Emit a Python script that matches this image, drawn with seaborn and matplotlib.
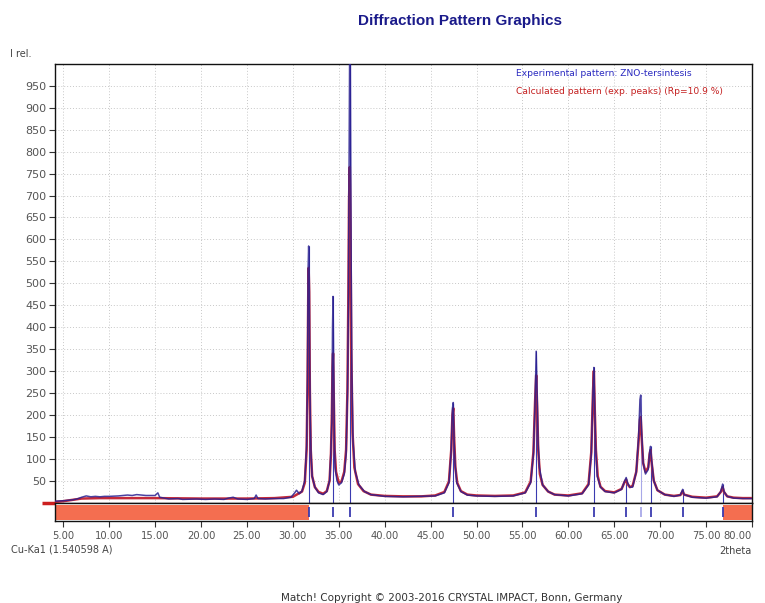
import numpy as np
import pandas as pd
import matplotlib
matplotlib.use("Agg")
import matplotlib.pyplot as plt
import seaborn as sns

# ---------------- data ----------------
exp_x = [4.1, 5.0, 6.0, 6.5, 7.0, 7.5, 8.0, 8.5, 9.0, 9.5, 10.0, 11.0, 12.0, 12.5, 13.0, 13.5, 14.0, 15.0,
         15.3, 15.5, 16.5, 17.5, 18.0, 19.5, 20.5, 21.5, 22.5, 23.0, 23.5, 24.0, 25.0, 25.8, 26.0, 26.2,
         27.0, 28.0, 29.0, 29.8, 30.2, 30.4, 30.7, 31.0, 31.3, 31.5, 31.6, 31.66, 31.72, 31.78, 31.84,
         31.9, 31.98, 32.1, 32.4, 32.8, 33.3, 33.7, 34.0, 34.15, 34.25, 34.32, 34.38, 34.45, 34.52, 34.6,
         34.8, 35.0, 35.3, 35.6, 35.8, 35.95, 36.05, 36.12, 36.18, 36.26, 36.34, 36.42, 36.55, 36.8, 37.2,
         37.8, 38.5, 40.0, 42.0, 44.0, 45.5, 46.5, 47.0, 47.25, 47.38, 47.47, 47.56, 47.66, 47.85, 48.3,
         49.0, 50.0, 52.0, 54.0, 55.3, 55.9, 56.2, 56.38, 56.5, 56.6, 56.7, 56.85, 57.2, 57.8, 58.5,
         60.0, 61.5, 62.2, 62.5, 62.68, 62.78, 62.87, 62.97, 63.15, 63.5, 64.0, 65.0, 65.8, 66.15, 66.3,
         66.45, 66.7, 67.0, 67.4, 67.65, 67.8, 67.88, 67.96, 68.15, 68.4, 68.7, 68.85, 68.95, 69.05, 69.3,
         69.7, 70.5, 71.5, 72.2, 72.45, 72.6, 73.5, 75.0, 76.2, 76.6, 76.8, 76.95, 77.3, 78.0, 79.0, 80.0]
exp_y = [3, 4, 6, 8, 12, 15, 13, 14, 13, 14, 14, 15, 17, 16, 18, 17, 16, 16,
         22, 12, 8, 9, 7, 8, 7, 8, 7, 10, 12, 8, 7, 9, 17, 9,
         8, 9, 9, 12, 22, 28, 20, 26, 50, 130, 290, 530, 585, 535, 310,
         190, 110, 60, 35, 22, 18, 25, 50, 120, 185, 400, 470, 300, 150, 80,
         50, 40, 45, 65, 110, 250, 450, 760, 1010, 1010, 600, 300, 140, 70, 40,
         25, 18, 14, 13, 14, 15, 22, 45, 120, 215, 228, 140, 90, 45, 25,
         17, 15, 14, 15, 22, 45, 110, 230, 345, 250, 140, 80, 40, 25, 18,
         15, 20, 40, 110, 250, 308, 220, 130, 60, 35, 25, 22, 30, 50, 57,
         45, 35, 35, 70, 150, 235, 245, 170, 90, 65, 75, 115, 128, 100, 50,
         28, 18, 14, 17, 30, 18, 12, 10, 13, 25, 42, 25, 14, 10, 9, 9]

calc_x = [4.1, 5.0, 6.0, 7.0, 9.0, 12.0, 15.0, 20.0, 25.0, 28.0, 30.0, 31.0, 31.3, 31.5, 31.6, 31.68, 31.72,
          31.78, 31.85, 31.95, 32.1, 32.4, 32.8, 33.3, 33.7, 34.0, 34.15, 34.25, 34.32, 34.38, 34.45, 34.55,
          34.7, 35.0, 35.3, 35.6, 35.8, 35.95, 36.05, 36.12, 36.2, 36.28, 36.36, 36.5, 36.7, 37.1, 37.7,
          38.5, 40.0, 42.0, 44.0, 45.5, 46.5, 47.0, 47.25, 47.38, 47.47, 47.56, 47.7, 47.9, 48.3, 49.0,
          50.0, 52.0, 54.0, 55.3, 55.9, 56.2, 56.38, 56.5, 56.6, 56.72, 56.9, 57.2, 57.8, 58.5, 60.0, 61.5,
          62.2, 62.5, 62.68, 62.78, 62.88, 63.0, 63.2, 63.5, 64.0, 65.0, 65.8, 66.15, 66.3, 66.45, 66.7,
          67.0, 67.4, 67.65, 67.8, 67.88, 67.98, 68.15, 68.4, 68.7, 68.85, 68.95, 69.05, 69.3, 69.7, 70.5,
          71.5, 72.2, 72.45, 72.6, 73.5, 75.0, 76.2, 76.6, 76.8, 76.95, 77.3, 78.0, 79.0, 80.0]
calc_y = [1, 3, 6, 9, 10, 10, 10, 9, 9, 10, 13, 25, 45, 120, 270, 480, 535,
          480, 260, 120, 60, 35, 24, 20, 26, 50, 110, 200, 310, 340, 250, 120,
          70, 45, 48, 70, 120, 260, 480, 690, 765, 620, 350, 160, 80, 42, 26,
          18, 15, 14, 14, 16, 24, 48, 120, 200, 215, 150, 80, 45, 26, 18,
          16, 15, 16, 23, 48, 115, 230, 290, 220, 120, 65, 40, 25, 18, 16, 21,
          42, 115, 250, 300, 210, 120, 60, 36, 26, 23, 31, 48, 52, 42, 35,
          38, 70, 140, 190, 195, 150, 90, 70, 80, 110, 120, 95, 50, 28, 18,
          15, 17, 26, 18, 13, 11, 14, 24, 35, 24, 14, 11, 10, 10]

peak_pos = [31.72, 34.38, 36.20, 47.47, 56.50, 62.78, 66.30, 67.88, 68.95, 72.45, 76.80]
peak_height = [585, 470, 1000, 228, 345, 308, 57, 245, 128, 30, 42]
peak_color = ["#3a3ab0"] * 7 + ["#a8a8e8"] + ["#3a3ab0"] * 3
excluded_start = [4.1, 76.80]
excluded_end = [31.72, 80.0]

x_ticks = [5, 10, 15, 20, 25, 30, 35, 40, 45, 50, 55, 60, 65, 70, 75, 80]
x_tick_labels = ["%.2f" % v for v in x_ticks]
y_ticks = list(range(50, 1000, 50))

title = "Diffraction Pattern Graphics"
legend_exp = "Experimental pattern: ZNO-tersintesis"
legend_calc = "Calculated pattern (exp. peaks) (Rp=10.9 %)"

# ---------------- figure ----------------
sns.set_style("white")
plt.rcParams['font.family'] = ['DejaVu Sans']

W, H = 765, 603
fig = plt.figure(figsize=(W / 100, H / 100), dpi=100)

def fx(px):
    return px / W

def fy(py):
    return 1 - py / H

L, R = 55, 752
top_main, bot_main, bot_strip = 64, 502.5, 521
ax = fig.add_axes([fx(L), fy(bot_main), fx(R - L), fy(top_main) - fy(bot_main)])
axs = fig.add_axes([fx(L), fy(bot_strip), fx(R - L), fy(bot_main) - fy(bot_strip)], sharex=ax)

exp_df = pd.DataFrame({"2theta": exp_x, "I": exp_y})
calc_df = pd.DataFrame({"2theta": calc_x, "I": calc_y})

tick_col = "#555555"

# grid
ax.set_xticks(x_ticks)
ax.set_yticks(y_ticks)
ax.grid(True, color="#c8c8c8", linestyle=(0, (1, 2)), linewidth=0.7)

# peak lines in main plot
ax.vlines(peak_pos, 0, peak_height, colors=peak_color, linewidth=0.8, zorder=2)

sns.lineplot(data=calc_df, x="2theta", y="I", ax=ax, color="#c42a3a", linewidth=1.8,
             estimator=None, sort=False, zorder=3)
sns.lineplot(data=exp_df, x="2theta", y="I", ax=ax, color="#2a2090", linewidth=1.1, alpha=0.85,
             estimator=None, sort=False, zorder=4)

ax.set_xlim(4.1, 80.0)
ax.set_ylim(0, 1000)
ax.set_xlabel("")
ax.set_ylabel("")
ax.tick_params(axis="x", bottom=False, labelbottom=False)
ax.tick_params(axis="y", left=True, length=4, width=0.8, color="#333333", labelsize=8,
               labelcolor=tick_col, pad=2)
for s in ax.spines.values():
    s.set_color("#111111")
    s.set_linewidth(1.0)

# zero marker (red) outside left axis
ax.plot([-0.018, 0.0], [0, 0], transform=ax.get_yaxis_transform(), color="#cc1f1f",
        linewidth=2.5, clip_on=False, solid_capstyle="butt", zorder=5)

# strip with excluded regions and peak markers
for a, b in zip(excluded_start, excluded_end):
    axs.axvspan(a, b, ymin=0.05, ymax=0.86, color="#f46e50", linewidth=0)
axs.vlines(peak_pos, 0.22, 0.77, colors=peak_color, linewidth=1.3)
axs.set_ylim(0, 1)
axs.set_yticks([])
axs.set_xticks(x_ticks)
axs.set_xticklabels(x_tick_labels)
axs.tick_params(axis="x", bottom=True, length=4, width=0.8, color="#333333", labelsize=7.2,
                labelcolor=tick_col, pad=3)
labels = axs.get_xticklabels()
labels[-1].set_horizontalalignment("right")
for s in axs.spines.values():
    s.set_color("#111111")
    s.set_linewidth(1.0)

# texts
fig.text(fx(460), fy(21), title, ha="center", va="center", fontsize=11, fontweight="bold",
         color="#1a1a8a", family=["Liberation Sans"])
fig.text(fx(10), fy(54), "I rel.", ha="left", va="center", fontsize=7, color="#444444")
ax.text(fx(516 - L) / fx(R - L), (fy(73) - fy(bot_main)) / (fy(top_main) - fy(bot_main)), legend_exp,
        transform=ax.transAxes, ha="left", va="center", fontsize=6.6, color="#2a2ac0")
ax.text(fx(516 - L) / fx(R - L), (fy(91) - fy(bot_main)) / (fy(top_main) - fy(bot_main)), legend_calc,
        transform=ax.transAxes, ha="left", va="center", fontsize=6.6, color="#c42020")
fig.text(fx(11), fy(549), "Cu-Ka1 (1.540598 A)", ha="left", va="center", fontsize=7, color="#444444")
fig.text(fx(752), fy(551), "2theta", ha="right", va="center", fontsize=7, color="#444444")
fig.text(fx(452), fy(598), "Match! Copyright \u00a9 2003-2016 CRYSTAL IMPACT, Bonn, Germany",
         ha="center", va="center", fontsize=7.5, color="#333333")

fig.savefig("out.png", dpi=100, facecolor="white")
